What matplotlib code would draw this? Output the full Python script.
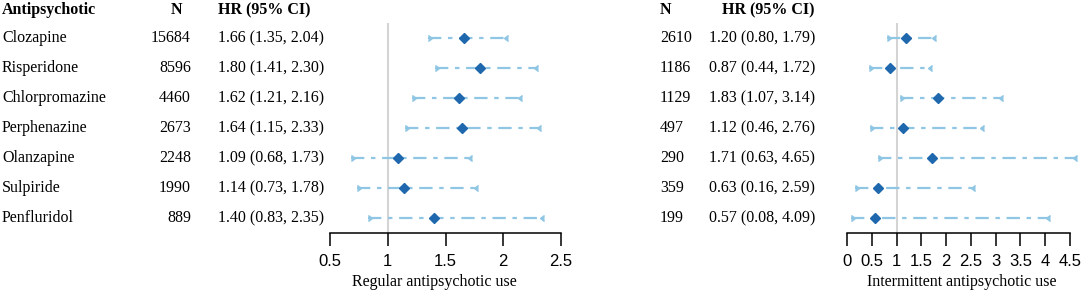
import matplotlib.pyplot as plt
from matplotlib import transforms

# data
drugs = ['Clozapine', 'Risperidone', 'Chlorpromazine', 'Perphenazine',
         'Olanzapine', 'Sulpiride', 'Penfluridol']

reg_n = [15684, 8596, 4460, 2673, 2248, 1990, 889]
reg_hr = [1.66, 1.80, 1.62, 1.64, 1.09, 1.14, 1.40]
reg_lo = [1.35, 1.41, 1.21, 1.15, 0.68, 0.73, 0.83]
reg_hi = [2.04, 2.30, 2.16, 2.33, 1.73, 1.78, 2.35]

int_n = [2610, 1186, 1129, 497, 290, 359, 199]
int_hr = [1.20, 0.87, 1.83, 1.12, 1.71, 0.63, 0.57]
int_lo = [0.80, 0.44, 1.07, 0.46, 0.63, 0.16, 0.08]
int_hi = [1.79, 1.72, 3.14, 2.76, 4.65, 2.59, 4.09]

reg_ticks = [0.5, 1, 1.5, 2, 2.5]
int_ticks = [0, 0.5, 1, 1.5, 2, 2.5, 3, 3.5, 4, 4.5]

W, H = 1084, 294
serif = 'Liberation Serif'
sans = 'Liberation Sans'
light = '#8fc6e4'
dark = '#1f68ae'
fs = 11.5

fig = plt.figure(figsize=(W / 100, H / 100), dpi=100)

def make_ax(x0, x1, xlim, ticks, label, labx):
    ax = fig.add_axes([x0 / W, 1 - 233 / H, (x1 - x0) / W, (233 - 23) / H])
    ax.set_xlim(*xlim)
    ax.set_ylim(6.5, -0.5)
    for s in ['top', 'right', 'left']:
        ax.spines[s].set_visible(False)
    ax.spines['bottom'].set_linewidth(1.1)
    ax.set_yticks([])
    ax.set_xticks(ticks)
    ax.set_xticklabels([('%g' % t) for t in ticks], fontfamily=sans, fontsize=12)
    ax.tick_params(axis='x', length=9, width=1.1, pad=6)
    ax.set_xlabel(label, fontfamily=serif, fontsize=fs, labelpad=2)
    ax.xaxis.set_label_coords(labx, -0.195)
    ax.axvline(1, color='#d4d4d4', lw=1.5, zorder=0)
    return ax

def draw_ci(ax, hr, lo, hi):
    for i in range(len(hr)):
        ax.plot([lo[i], hi[i]], [i, i], color=light, lw=1.6,
                linestyle=(0, (6, 3, 2, 3)), clip_on=False)
        ax.plot([lo[i]], [i], marker=9, color=light, ms=4, clip_on=False)
        ax.plot([hi[i]], [i], marker=8, color=light, ms=4, clip_on=False)
        ax.plot([hr[i]], [i], marker='D', color=dark, ms=5.5, clip_on=False)

ax1 = make_ax(330, 561, (0.5, 2.5), reg_ticks, 'Regular antipsychotic use', 0.45)
ax2 = make_ax(847, 1070, (0, 4.5), int_ticks, 'Intermittent antipsychotic use', 0.516)
draw_ci(ax1, reg_hr, reg_lo, reg_hi)
draw_ci(ax2, int_hr, int_lo, int_hi)

# text columns
tr = transforms.blended_transform_factory(fig.transFigure, ax1.transData)
hy = -0.93
fig.text(2 / W, hy, 'Antipsychotic', transform=tr, fontfamily=serif, fontsize=fs,
         fontweight='bold', va='center')
fig.text(176 / W, hy, 'N', transform=tr, fontfamily=serif, fontsize=fs,
         fontweight='bold', va='center', ha='center')
fig.text(264 / W, hy, 'HR (95% CI)', transform=tr, fontfamily=serif, fontsize=fs,
         fontweight='bold', va='center', ha='center')
fig.text(660 / W, hy, 'N', transform=tr, fontfamily=serif, fontsize=fs,
         fontweight='bold', va='center')
fig.text(768 / W, hy, 'HR (95% CI)', transform=tr, fontfamily=serif, fontsize=fs,
         fontweight='bold', va='center', ha='center')

for i in range(len(drugs)):
    fig.text(2 / W, i, drugs[i], transform=tr, fontfamily=serif, fontsize=fs, va='center')
    fig.text(191 / W, i, str(reg_n[i]), transform=tr, fontfamily=serif, fontsize=fs,
             va='center', ha='right')
    fig.text(218 / W, i, '%.2f (%.2f, %.2f)' % (reg_hr[i], reg_lo[i], reg_hi[i]),
             transform=tr, fontfamily=serif, fontsize=fs, va='center')
    fig.text(660 / W, i, str(int_n[i]), transform=tr, fontfamily=serif, fontsize=fs,
             va='center')
    fig.text(709 / W, i, '%.2f (%.2f, %.2f)' % (int_hr[i], int_lo[i], int_hi[i]),
             transform=tr, fontfamily=serif, fontsize=fs, va='center')

fig.savefig('out.png', dpi=100)
